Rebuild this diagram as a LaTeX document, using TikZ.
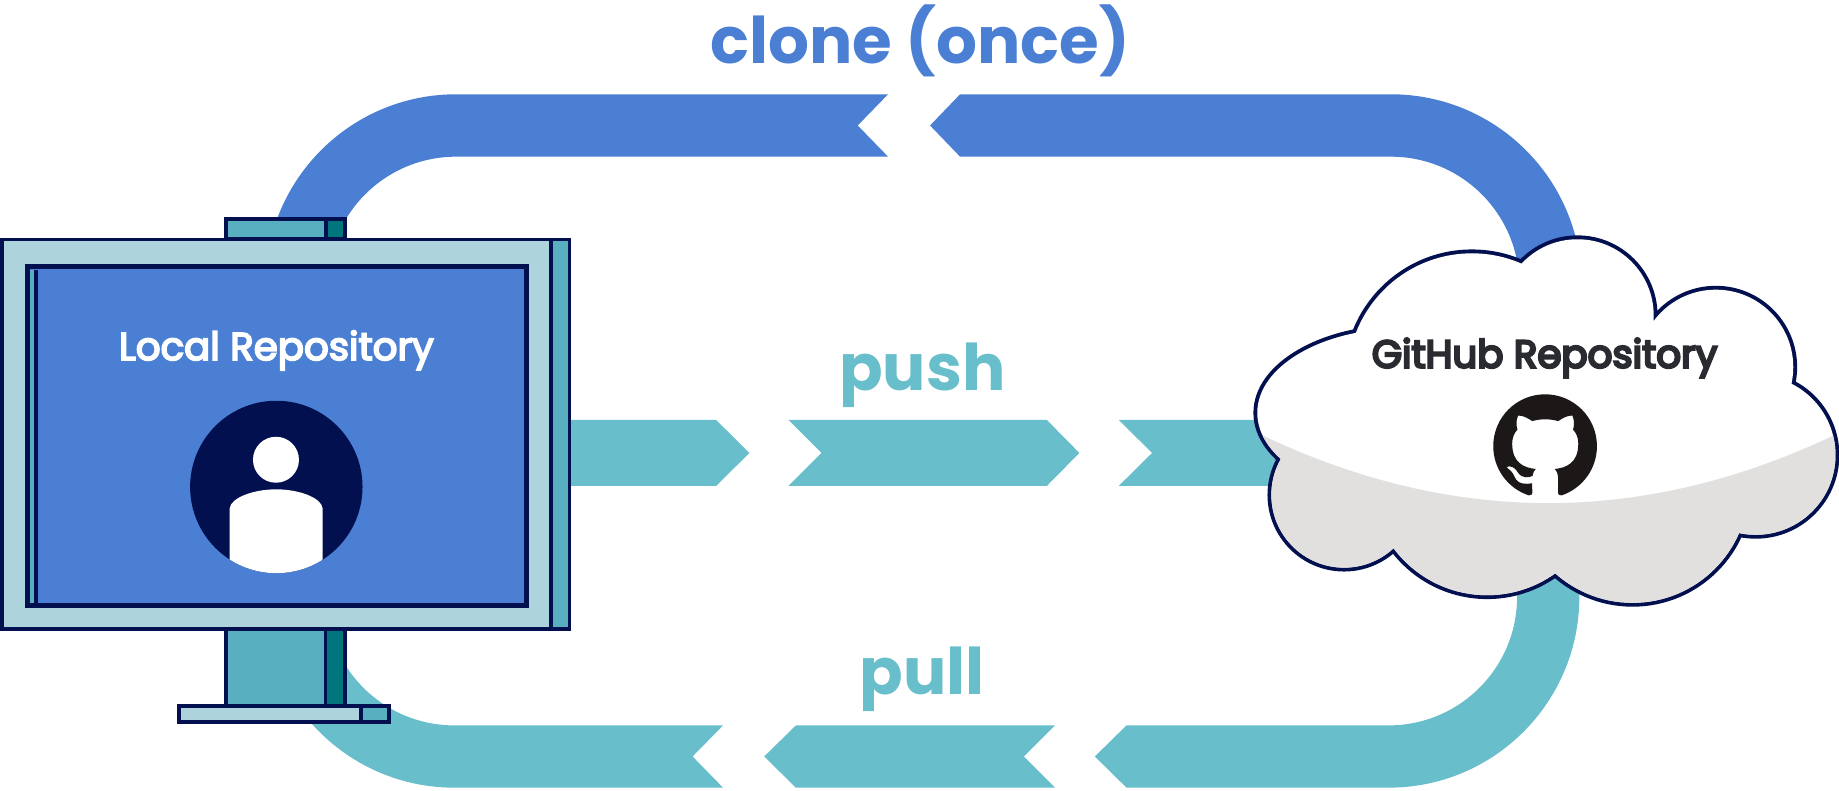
\documentclass[tikz,border=0pt]{standalone}
\usepackage{fontspec}
\setmainfont{Poppins}
\newfontfamily\screenfont[FakeBold=4.5]{Poppins}
\newfontfamily\cloudfont[FakeBold=6]{Poppins}
\usetikzlibrary{svg.path}

\definecolor{clonecol}{HTML}{4A7FD4}
\definecolor{synccol}{HTML}{69BECB}
\definecolor{navyline}{HTML}{03104F}
\definecolor{framelight}{HTML}{ADD4DC}
\definecolor{frameteal}{HTML}{58AFC0}
\definecolor{framedark}{HTML}{00767C}
\definecolor{cloudgray}{HTML}{E1E0DF}
\definecolor{octoblack}{HTML}{1B1817}
\definecolor{cloudtext}{HTML}{2A2B31}

% bumps of the cloud: x/y/x radius/y radius
\def\cloudbumps{1196/352/124/72, 1255/322/106/106, 1345/269/65/65, 1463/313/66/66,
  1497/388/68/68, 1392/415/99/99, 1268/408/99.5/99.5, 1146/422/62/62, 1320/380/170/80}

\begin{document}
\begin{tikzpicture}[x=0.025cm, y=-0.025cm,
    arrowlabel/.style={font=\bfseries\fontsize{39}{44}\selectfont, anchor=base},
    framepart/.style={draw=navyline, line width=2.3pt}]
    \useasboundingbox (0,0) rectangle (1568,674);

    % clone band, pointing left
    \fill[clonecol] (388.8,80.4) -- (757.2,80.4) -- (731.3,107) -- (757.2,133.6) -- (388.8,133.6)
        arc[start angle=-90, end angle=-180, radius=109.4] -- ++(-53.2,0)
        arc[start angle=180, end angle=270, radius=162.6] -- cycle;
    \fill[clonecol] (793,107) -- (818.6,80.4) -- (1186,80.4)
        arc[start angle=-90, end angle=0, radius=162.6] -- ++(-53.2,0)
        arc[start angle=0, end angle=-90, radius=109.4] -- (818.6,133.6) -- cycle;

    % push band, pointing right
    \fill[synccol] (470,358.1) -- (610.6,358.1) -- (639,386.2) -- (610.6,414.3) -- (470,414.3) -- cycle;
    \fill[synccol] (672.3,358.1) -- (892.6,358.1) -- (920.3,386.2) -- (892.6,414.3) -- (672.3,414.3) -- (700.4,386.2) -- cycle;
    \fill[synccol] (953.9,358.1) -- (1130,358.1) -- (1130,414.3) -- (953.9,414.3) -- (982.3,386.2) -- cycle;

    % pull band, pointing left
    \fill[synccol] (387.3,618.5) -- (616.5,618.5) -- (590.5,645) -- (616.5,671.6) -- (387.3,671.6)
        arc[start angle=90, end angle=180, radius=162.6] -- ++(53.1,0)
        arc[start angle=180, end angle=90, radius=109.5] -- cycle;
    \fill[synccol] (651.6,645) -- (678.6,618.5) -- (899.5,618.5) -- (873,645) -- (899.5,671.6) -- (678.6,671.6) -- cycle;
    \fill[synccol] (933.5,645) -- (960.5,618.5) -- (1184,618.5)
        arc[start angle=90, end angle=0, radius=109.5] -- (1293.5,470) -- (1346.6,470) -- (1346.6,509)
        arc[start angle=0, end angle=90, radius=162.6] -- (960.5,671.6) -- cycle;

    \node[arrowlabel, text=clonecol] (clonelbl) at (784.5,54) {clone (once)};
    \node[arrowlabel, text=synccol] (pushlbl) at (786.4,333.1) {push};
    \node[arrowlabel, text=synccol] (pulllbl) at (786.5,592) {pull};

    % monitor stand
    \filldraw[framepart, fill=frameteal] (192.7,186.9) rectangle (294.2,204);
    \filldraw[framepart, fill=framedark] (277.7,186.9) rectangle (294.2,204);
    \filldraw[framepart, fill=frameteal] (192.7,535) rectangle (294.2,602);
    \filldraw[framepart, fill=framedark] (277.5,535) rectangle (294.2,602);
    \filldraw[framepart, fill=framelight] (152.5,602) rectangle (331.5,615.5);
    \filldraw[framepart, fill=frameteal] (307.5,602) rectangle (331.5,615.5);

    % monitor frame and screen
    \filldraw[framepart, fill=framelight] (1.6,204.3) rectangle (485.6,536.4);
    \filldraw[framepart, fill=frameteal] (469.8,204.3) rectangle (485.6,536.4);
    \filldraw[draw=navyline, line width=3.1pt, fill=clonecol] (23.4,227.6) rectangle (448.8,516.5);
    \fill[frameteal] (25.6,229.8) rectangle (29.5,514.3);
    \draw[navyline, line width=2.3pt] (31,229.8) -- (31,514.3);

    \node[font=\screenfont\fontsize{23.5}{28}\selectfont, text=white, anchor=base] (localtxt) at (235.7,307) {Local Repository};

    % user avatar
    \fill[navyline] (235.6,415.2) circle [radius=73.5];
    \begin{scope}
        \clip (235.6,415.2) circle [radius=73.5];
        \fill[white] (195.8,500) -- (195.8,433.4) .. controls (197,424) and (217,417.2) .. (235.5,417.2)
            .. controls (254,417.2) and (274,424) .. (275.1,433.4) -- (275.1,500) -- cycle;
    \end{scope}
    \fill[white] (235.3,392) circle [radius=19.6];

    % cloud
    \draw[navyline, line width=4.7pt] \foreach \cx/\cy/\rx/\ry in \cloudbumps {(\cx,\cy) circle [x radius=\rx, y radius=\ry]};
    \fill[white] \foreach \cx/\cy/\rx/\ry in \cloudbumps {(\cx,\cy) circle [x radius=\rx, y radius=\ry]};
    \begin{scope}
        \clip \foreach \cx/\cy/\rx/\ry in \cloudbumps {(\cx,\cy) circle [x radius=\rx, y radius=\ry]};
        \fill[cloudgray] (1040,352.7) .. controls (1226.7,454.4) and (1413.3,454.4) .. (1600,352.7)
            -- (1600,560) -- (1040,560) -- cycle;
    \end{scope}

    \node[font=\cloudfont\fontsize{23.5}{28}\selectfont, text=cloudtext, anchor=base] (ghtxt) at (1317,313.5) {GitHub Repository};

    % octocat mark
    \begin{scope}[shift={(1273.2,336.2)}, yscale=-1, scale=3.93]
        \fill[octoblack] svg {M 8 0 C 3.58 0 0 3.58 0 8 c 0 3.54 2.29 6.53 5.47 7.59
            c 0.4 0.07 0.55 -0.17 0.55 -0.38 c 0 -0.19 -0.01 -0.82 -0.01 -1.49
            c -2.01 0.37 -2.53 -0.49 -2.69 -0.94 c -0.09 -0.23 -0.48 -0.94 -0.82 -1.13
            c -0.28 -0.15 -0.68 -0.52 -0.01 -0.53 c 0.63 -0.01 1.08 0.58 1.23 0.82
            c 0.72 1.21 1.87 0.87 2.33 0.66 c 0.07 -0.52 0.28 -0.87 0.51 -1.07
            c -1.78 -0.2 -3.64 -0.89 -3.64 -3.95 c 0 -0.87 0.31 -1.59 0.82 -2.15
            c -0.08 -0.2 -0.36 -1.02 0.08 -2.12 c 0 0 0.67 -0.21 2.2 0.82
            c 0.64 -0.18 1.32 -0.27 2 -0.27 c 0.68 0 1.36 0.09 2 0.27
            c 1.53 -1.04 2.2 -0.82 2.2 -0.82 c 0.44 1.1 0.16 1.92 0.08 2.12
            c 0.51 0.56 0.82 1.27 0.82 2.15 c 0 3.07 -1.87 3.75 -3.65 3.95
            c 0.29 0.25 0.54 0.73 0.54 1.48 c 0 1.07 -0.01 1.93 -0.01 2.2
            c 0 0.21 0.15 0.46 0.55 0.38 C 13.81 14.49 16 11.44 16 8
            C 16 3.58 12.42 0 8 0 Z};
    \end{scope}
\end{tikzpicture}
\end{document}
